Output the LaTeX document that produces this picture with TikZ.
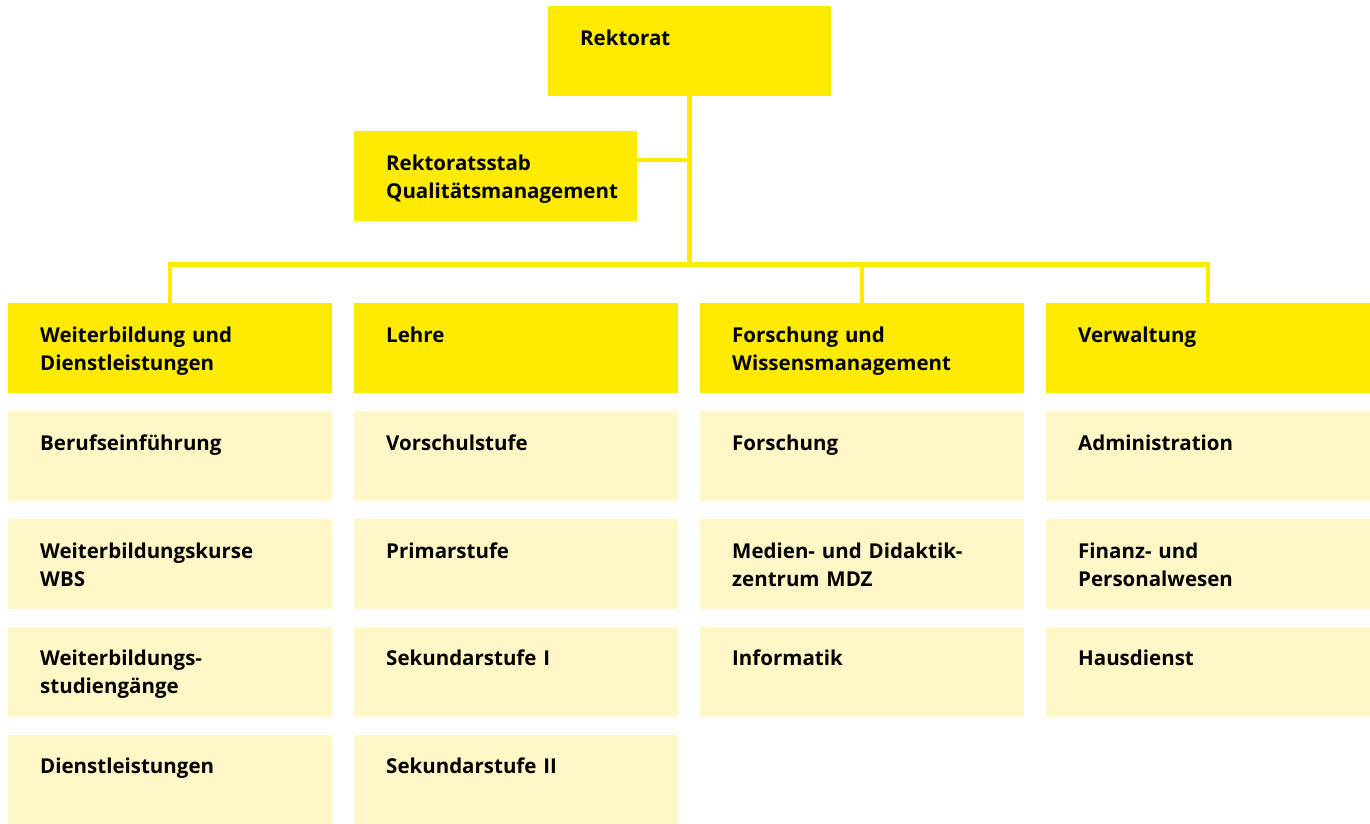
\documentclass[tikz,border=0pt]{standalone}
\usepackage{fontspec}
\setmainfont{Open Sans}
\usetikzlibrary{positioning}
\definecolor{gelb}{RGB}{255,235,0}
\definecolor{hellgelb}{RGB}{255,247,197}
\hyphenpenalty=10000

\begin{document}
\begin{tikzpicture}[x=1pt,y=-1pt,font=\bfseries\fontsize{20.5}{28}\selectfont,node distance=17.5pt,
	head/.style={fill=gelb,anchor=north west,minimum width=323.5pt,text width=259.5pt,align=left,
		inner xsep=32pt,inner ysep=0pt,text height=39pt,text depth=51pt},
	unit/.style={head,fill=hellgelb},
	link/.style={draw=gelb,line width=4.5pt}]
	\useasboundingbox (0,0) rectangle (1370,824);
	% Leitung
	\node[head,minimum width=283pt,text width=219pt] (rek) at (548,6) {Rektorat};
	\node[head,minimum width=283pt,text width=219pt] (stab) at (354,131) {Rektoratsstab\\Qualitätsmanagement};
	% Bereiche
	\node[head] (wb) at (8,303) {Weiterbildung und\\Dienstleistungen};
	\node[head] (le) at (354,303) {Lehre};
	\node[head] (fo) at (700,303) {Forschung und\\Wissensmanagement};
	\node[head] (vw) at (1046,303) {Verwaltung};
	% Weiterbildung
	\node[unit,below=of wb] (wb1) {Berufseinführung};
	\node[unit,below=of wb1] (wb2) {Weiterbildungskurse\\WBS};
	\node[unit,below=of wb2] (wb3) {Weiterbildungs-\\studiengänge};
	\node[unit,below=of wb3] (wb4) {Dienstleistungen};
	% Lehre
	\node[unit,below=of le] (le1) {Vorschulstufe};
	\node[unit,below=of le1] (le2) {Primarstufe};
	\node[unit,below=of le2] (le3) {Sekundarstufe I};
	\node[unit,below=of le3] (le4) {Sekundarstufe II};
	% Forschung
	\node[unit,below=of fo] (fo1) {Forschung};
	\node[unit,below=of fo1] (fo2) {Medien- und Didaktik-\\zentrum MDZ};
	\node[unit,below=of fo2] (fo3) {Informatik};
	% Verwaltung
	\node[unit,below=of vw] (vw1) {Administration};
	\node[unit,below=of vw1] (vw2) {Finanz- und\\Personalwesen};
	\node[unit,below=of vw2] (vw3) {Hausdienst};
	% Linien
	\path (rek.south) ++(0,168) coordinate (bus);
	\draw[link] (rek.south) -- (bus);
	\draw[link] (stab.east |- 0,160) -- (rek.south |- 0,160);
	\draw[link] (wb.north) |- (bus) -| (vw.north);
	\draw[link] (fo.north) -- (fo.north |- bus);
\end{tikzpicture}
\end{document}
